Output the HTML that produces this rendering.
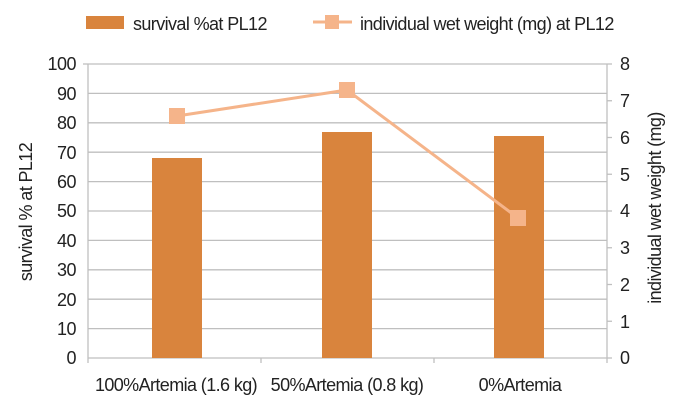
<html><body style="margin:0;background:#fff">
<svg width="675" height="411" xmlns="http://www.w3.org/2000/svg" font-family="Liberation Sans, Arial, sans-serif" font-size="18" fill="#222">
<g stroke="#bfbfbf" stroke-width="1.3">
<line x1="88" y1="64" x2="607" y2="64"/><line x1="88" y1="93.4" x2="607" y2="93.4"/><line x1="88" y1="122.8" x2="607" y2="122.8"/><line x1="88" y1="152.2" x2="607" y2="152.2"/><line x1="88" y1="181.6" x2="607" y2="181.6"/><line x1="88" y1="211" x2="607" y2="211"/><line x1="88" y1="240.4" x2="607" y2="240.4"/><line x1="88" y1="269.8" x2="607" y2="269.8"/><line x1="88" y1="299.2" x2="607" y2="299.2"/><line x1="88" y1="328.6" x2="607" y2="328.6"/>
<line x1="88" y1="358" x2="607" y2="358"/>
<line x1="88" y1="64" x2="88" y2="363"/><line x1="607" y1="64" x2="607" y2="363"/>
<line x1="261" y1="358" x2="261" y2="363"/><line x1="434" y1="358" x2="434" y2="363"/>
<line x1="83" y1="64" x2="88" y2="64"/>
<line x1="607" y1="64" x2="612" y2="64"/><line x1="607" y1="100.75" x2="612" y2="100.75"/><line x1="607" y1="137.5" x2="612" y2="137.5"/><line x1="607" y1="174.25" x2="612" y2="174.25"/><line x1="607" y1="211" x2="612" y2="211"/><line x1="607" y1="247.75" x2="612" y2="247.75"/><line x1="607" y1="284.5" x2="612" y2="284.5"/><line x1="607" y1="321.25" x2="612" y2="321.25"/><line x1="607" y1="358" x2="612" y2="358"/>
</g>
<g fill="#d9843d">
<rect x="152" y="158" width="50" height="200"/><rect x="322" y="132" width="50" height="226"/><rect x="494" y="136" width="50" height="222"/>
</g>
<polyline points="177,116 347,90 518,218" fill="none" stroke="#f5b48a" stroke-width="3"/>
<g fill="#f5b48a"><rect x="169" y="108" width="16" height="16"/><rect x="339" y="82" width="16" height="16"/><rect x="510" y="210" width="16" height="16"/></g>
<g text-anchor="end" letter-spacing="-0.5">
<text x="76" y="70">100</text><text x="76" y="100">90</text><text x="76" y="129">80</text><text x="76" y="159">70</text><text x="76" y="188">60</text><text x="76" y="217">50</text><text x="76" y="247">40</text><text x="76" y="276">30</text><text x="76" y="306">20</text><text x="76" y="335">10</text><text x="76" y="364">0</text>
</g>
<g>
<text x="620" y="70">8</text><text x="620" y="107">7</text><text x="620" y="144">6</text><text x="620" y="181">5</text><text x="620" y="217">4</text><text x="620" y="254">3</text><text x="620" y="291">2</text><text x="620" y="328">1</text><text x="620" y="364">0</text>
</g>
<g text-anchor="middle" letter-spacing="-0.6">
<text x="176" y="391">100%Artemia (1.6 kg)</text><text x="347" y="391">50%Artemia (0.8 kg)</text><text x="520" y="391">0%Artemia</text>
<text transform="translate(32,212) rotate(-90)">survival % at PL12</text>
<text transform="translate(661,208) rotate(-90)">individual wet weight (mg)</text>
</g>
<rect x="86" y="16" width="38" height="13" fill="#d9843d"/>
<text x="133" y="30" letter-spacing="-0.6">survival %at PL12</text>
<line x1="313" y1="22" x2="352" y2="22" stroke="#f5b48a" stroke-width="3"/>
<rect x="325" y="15" width="14" height="14" fill="#f5b48a"/>
<text x="360" y="30" letter-spacing="-0.6">individual wet weight (mg) at PL12</text>
</svg>
</body></html>
